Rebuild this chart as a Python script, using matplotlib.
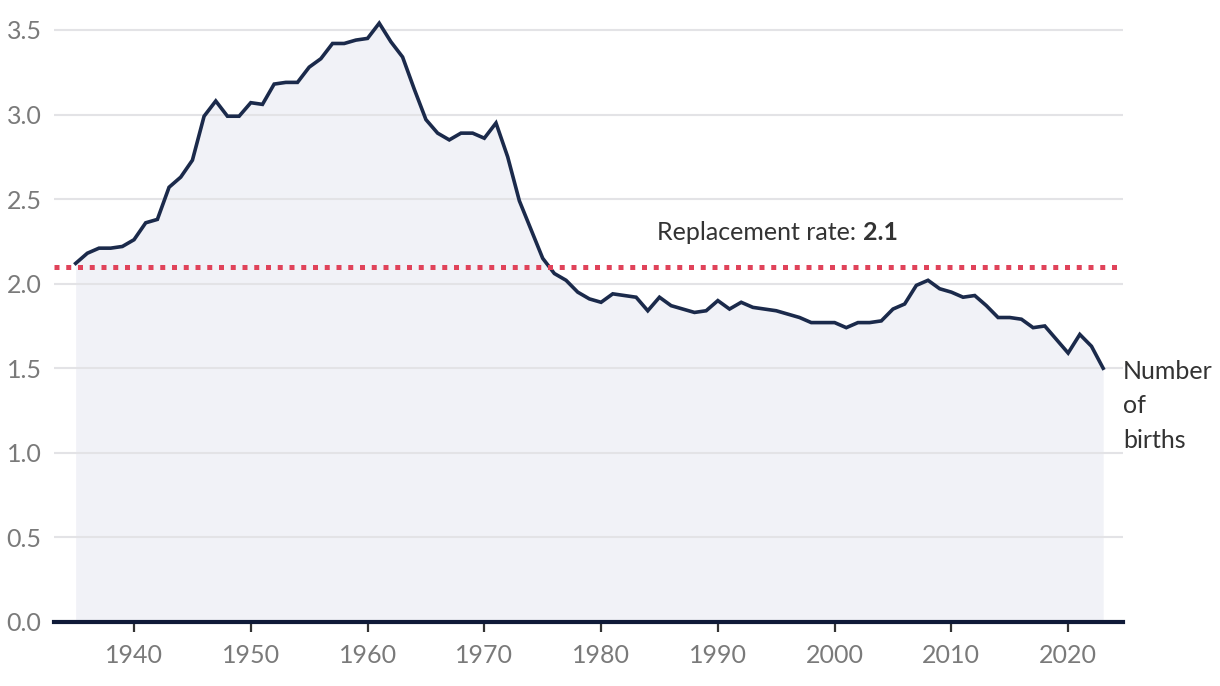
import matplotlib.pyplot as plt

plt.rcParams['font.family'] = ['Lato', 'DejaVu Sans']

# --- Data: fertility rate per year ---
years = list(range(1935, 2024))
fertility = [
    2.12, 2.18, 2.21, 2.21, 2.22, 2.26, 2.36, 2.38, 2.57, 2.63,   # 1935-1944
    2.73, 2.99, 3.08, 2.99, 2.99, 3.07, 3.06, 3.18, 3.19, 3.19,   # 1945-1954
    3.28, 3.33, 3.42, 3.42, 3.44, 3.45, 3.54, 3.43, 3.34, 3.15,   # 1955-1964
    2.97, 2.89, 2.85, 2.89, 2.89, 2.86, 2.95, 2.75, 2.49, 2.32,   # 1965-1974
    2.15, 2.06, 2.02, 1.95, 1.91, 1.89, 1.94, 1.93, 1.92, 1.84,   # 1975-1984
    1.92, 1.87, 1.85, 1.83, 1.84, 1.90, 1.85, 1.89, 1.86, 1.85,   # 1985-1994
    1.84, 1.82, 1.80, 1.77, 1.77, 1.77, 1.74, 1.77, 1.77, 1.78,   # 1995-2004
    1.85, 1.88, 1.99, 2.02, 1.97, 1.95, 1.92, 1.93, 1.87, 1.80,   # 2005-2014
    1.80, 1.79, 1.74, 1.75, 1.67, 1.59, 1.70, 1.63, 1.50,         # 2015-2023
]
replacement_rate = 2.1
x_ticks = [1940, 1950, 1960, 1970, 1980, 1990, 2000, 2010, 2020]
y_ticks = [0.0, 0.5, 1.0, 1.5, 2.0, 2.5, 3.0, 3.5]

NAVY = '#1b2a4b'
RED = '#e0435a'
FILL = '#f1f2f7'
GRID = '#e3e3e6'
TICK_GREY = '#7a7a7a'
TEXT = '#333333'

fig = plt.figure(figsize=(12.2, 6.86), dpi=100)
ax = fig.add_axes([0.0443, 0.0933, 0.8762, 0.8877])

ax.fill_between(years, 0, fertility, color=FILL, lw=0, zorder=0.3)
ax.plot(years, fertility, color=NAVY, lw=2.6, solid_joinstyle='miter', zorder=3)
ax.axhline(replacement_rate, color=RED, lw=3.6, linestyle=(0, (1.0, 1.35)),
           dash_capstyle='butt', zorder=4)

ax.set_xlim(1933.15, 2024.7)
ax.set_ylim(0, 3.6)

ax.set_yticks(y_ticks)
ax.set_yticklabels([f'{v:.1f}' for v in y_ticks])
ax.set_xticks(x_ticks)

ax.yaxis.grid(True, color=GRID, lw=1.5)
ax.set_axisbelow(True)

for side in ['top', 'right', 'left']:
    ax.spines[side].set_visible(False)
ax.spines['bottom'].set_color('#0f1a38')
ax.spines['bottom'].set_linewidth(3)
ax.spines['bottom'].set_zorder(5)

ax.tick_params(axis='y', length=0, pad=9, labelsize=18, labelcolor=TICK_GREY)
ax.tick_params(axis='x', length=7, width=1.6, color='#333333', pad=9,
               labelsize=18, labelcolor=TICK_GREY)

# annotations
label = ax.text(1984.8, 2.305, 'Replacement rate: ', fontsize=18, color=TEXT,
                ha='left', va='center')
ax.annotate(f'{replacement_rate}', xy=(1, 0.5), xycoords=label, fontsize=18,
            color=TEXT, fontweight='bold', ha='left', va='center')

# baseline of the last line; lines spaced so "Number" sits level with the line end
ax.text(2024.7, 1.03, 'Number\nof\nbirths', fontsize=18, color=TEXT,
        ha='left', va='baseline', linespacing=1.61, clip_on=False)

fig.savefig('out.png', dpi=100)
